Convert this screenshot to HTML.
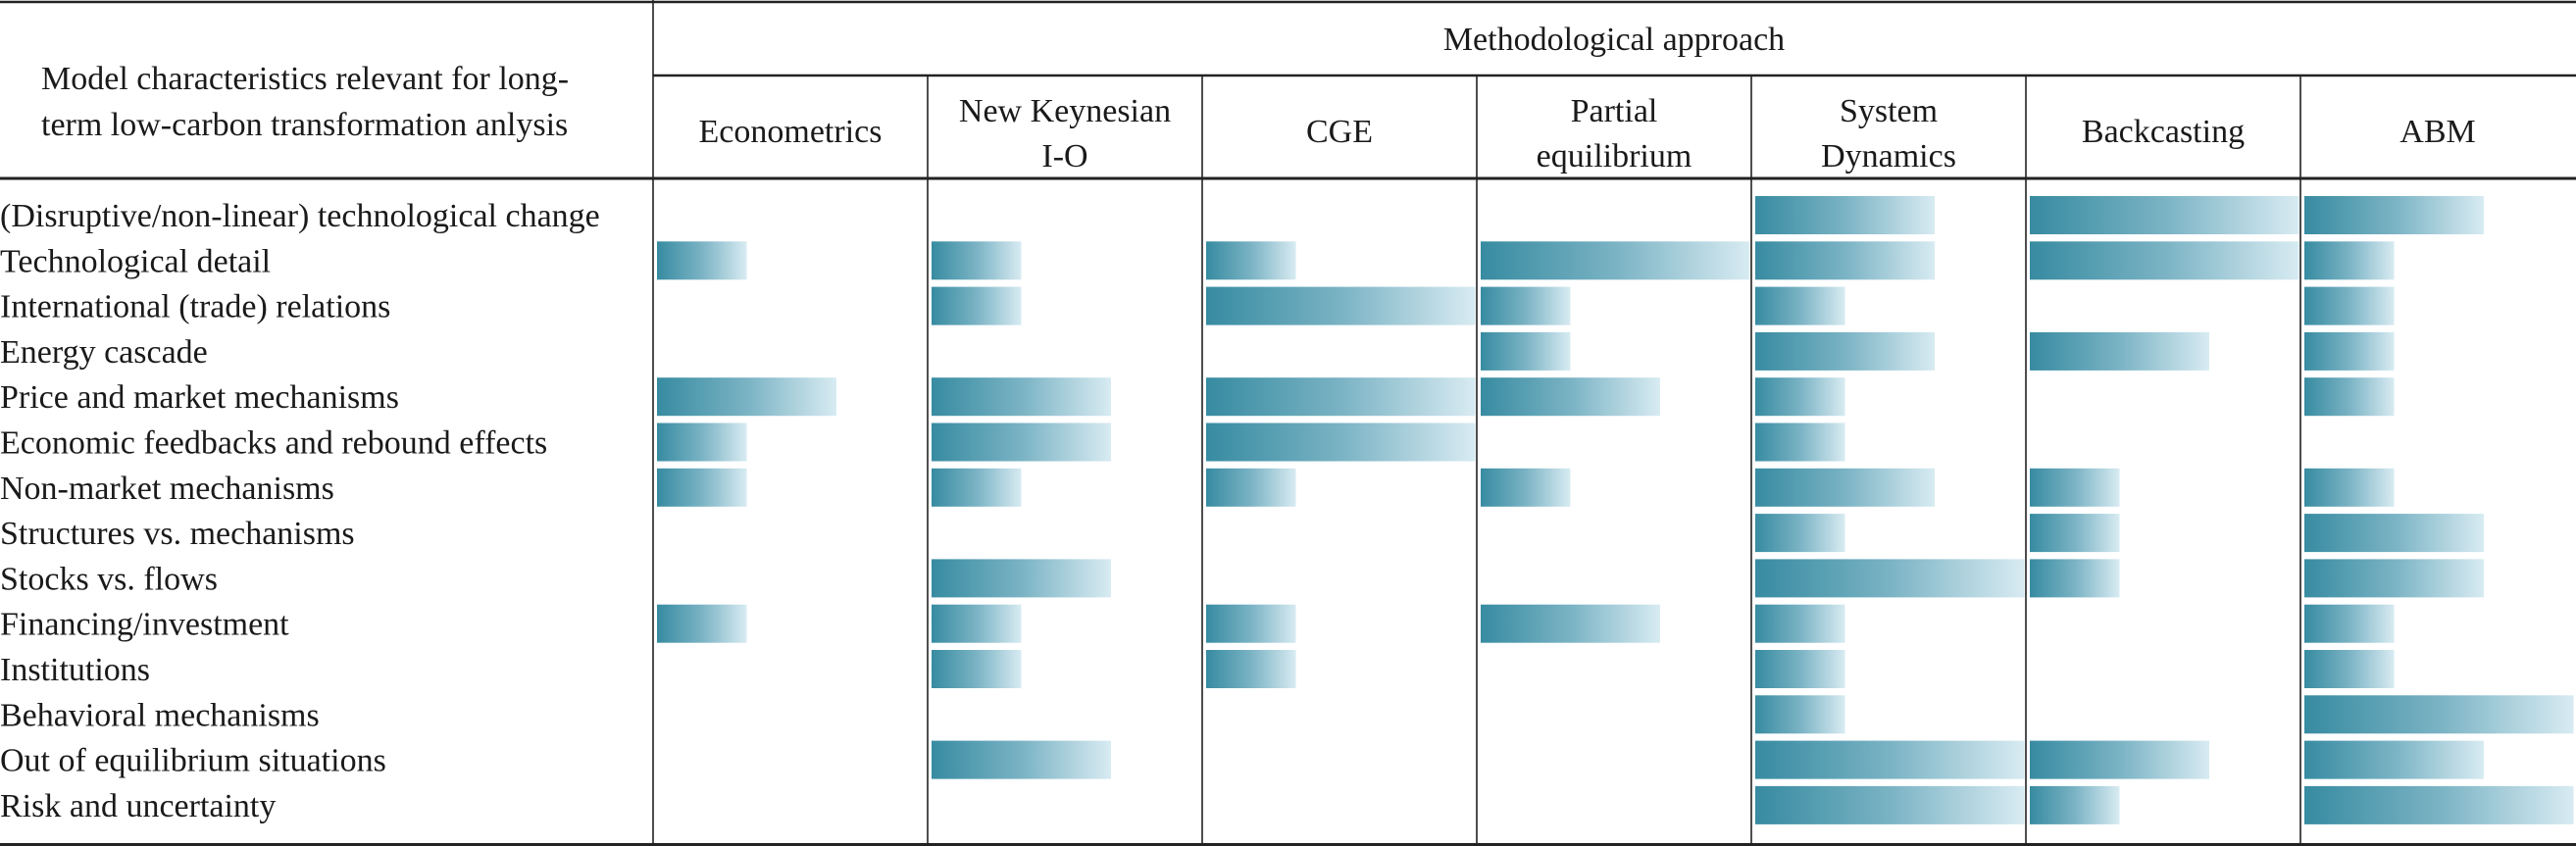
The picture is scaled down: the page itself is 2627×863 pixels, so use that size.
<!DOCTYPE html>
<html><head><meta charset="utf-8"><style>
html,body{margin:0;padding:0;background:#fff;}
svg{display:block;}
text{font-family:"Liberation Serif",serif;fill:#1a1a1a;}
</style></head><body>
<svg id="chart" width="2627" height="863" viewBox="0 0 2627 863" xmlns="http://www.w3.org/2000/svg">
<defs>
<linearGradient id="bg" x1="0" x2="1" y1="0" y2="0">
<stop offset="0" stop-color="#378ba1"/>
<stop offset="0.5" stop-color="#7ab3c4"/>
<stop offset="1" stop-color="#d8ebf2"/>
</linearGradient>
</defs>
<g id="grid"></g>
<g id="headers"></g>
<g id="rows"></g>
<g id="bars"></g>
</svg>
<script>
const rowLabels = ["(Disruptive/non-linear) technological change","Technological detail","International (trade) relations","Energy cascade","Price and market mechanisms","Economic feedbacks and rebound effects","Non-market mechanisms","Structures vs. mechanisms","Stocks vs. flows","Financing/investment","Institutions","Behavioral mechanisms","Out of equilibrium situations","Risk and uncertainty"];
const columnNames = [["Econometrics"],["New Keynesian","I-O"],["CGE"],["Partial","equilibrium"],["System","Dynamics"],["Backcasting"],["ABM"]];
const econometrics = [0,1,0,0,2,1,1,0,0,1,0,0,0,0];
const newKeynesian = [0,1,1,0,2,2,1,0,2,1,1,0,2,0];
const cge = [0,1,3,0,3,3,1,0,0,1,1,0,0,0];
const partialEq = [0,3,1,1,2,0,1,0,0,2,0,0,0,0];
const systemDynamics = [2,2,1,2,1,1,2,1,3,1,1,1,3,3];
const backcasting = [3,3,0,2,0,0,1,1,1,0,0,0,2,1];
const abm = [2,1,1,1,1,0,1,2,2,1,1,3,2,3];
const series = [econometrics,newKeynesian,cge,partialEq,systemDynamics,backcasting,abm];

const NS="http://www.w3.org/2000/svg";
const colX0=666, colW=280, rowY0=200, rowPitch=46.3, barH=39, unitW=91.5;
const colX = i => colX0 + i*colW;
const rowY = r => rowY0 + r*rowPitch;
const barW = v => v*unitW;
function mk(tag, attrs, parent){const e=document.createElementNS(NS,tag);for(const k in attrs)e.setAttribute(k,attrs[k]);parent.appendChild(e);return e;}
const grid=document.getElementById('grid'), hd=document.getElementById('headers'), rw=document.getElementById('rows'), bars=document.getElementById('bars');

// lines
let l=mk('line',{x1:0,y1:2,x2:2627,y2:2,stroke:'#222','stroke-width':2.5},grid);


l=mk('line',{x1:666,y1:77,x2:2627,y2:77,stroke:'#222','stroke-width':2.5},grid);


l=mk('line',{x1:0,y1:182,x2:2627,y2:182,stroke:'#222','stroke-width':3},grid);


l=mk('line',{x1:0,y1:861.5,x2:2627,y2:861.5,stroke:'#222','stroke-width':3},grid);


for(let i=0;i<7;i++){
  const v=mk('line',{x1:colX(i),y1:i==0?0:77,x2:colX(i),y2:863,stroke:'#222','stroke-width':1.6},grid);
  
  
}

// headers
let t=mk('text',{x:1646,y:51,'font-size':34,'text-anchor':'middle'},hd);
t.textContent='Methodological approach';


t=mk('text',{x:42,y:91,'font-size':34},hd);
t.textContent='Model characteristics relevant for long-';


t=mk('text',{x:42,y:138,'font-size':34},hd);
t.textContent='term low-carbon transformation anlysis';


columnNames.forEach((lines,i)=>{
  const cx=colX(i)+colW/2;
  const ys = lines.length==1 ? [145] : [124,170];
  lines.forEach((s,j)=>{
    const e=mk('text',{x:cx,y:ys[j],'font-size':34,'text-anchor':'middle'},hd);
    e.textContent=s;
    
    
  });
});

// row labels
rowLabels.forEach((s,r)=>{
  const e=mk('text',{x:0,y:rowY(r)+31,'font-size':34},rw);
  e.textContent=s;
  
  
});
// shrink first label to fit column
const first=rw.firstChild; if(first.getComputedTextLength()>664){first.setAttribute('textLength',664);first.setAttribute('lengthAdjust','spacingAndGlyphs');}

// bars
series.forEach((vals,i)=>{
  vals.forEach((v,r)=>{
    if(!v) return;
    const b=mk('rect',{x:colX(i)+4,y:rowY(r),width:Math.min(barW(v),colW-5),height:barH,fill:'url(#bg)'},bars);
    
    
  });
});
</script>
</body></html>
